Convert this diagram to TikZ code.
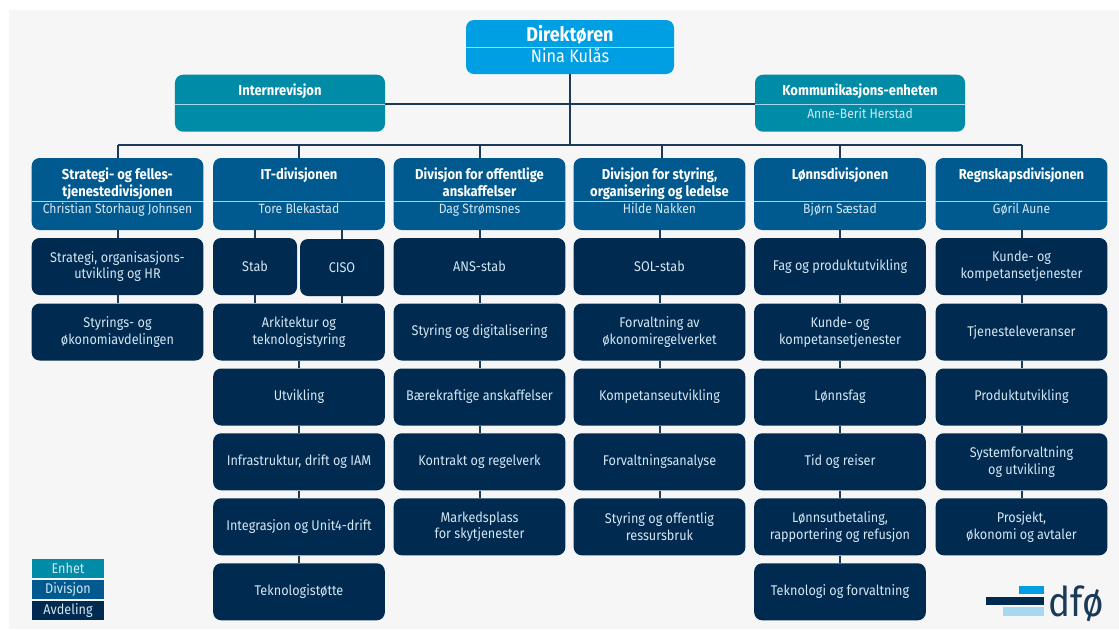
\documentclass[tikz,border=0pt]{standalone}
\usepackage{fontspec}
\setmainfont[FakeStretch=0.9]{Fira Sans}
\usetikzlibrary{positioning}
\definecolor{dirblue}{HTML}{009FE3}
\definecolor{enhetteal}{HTML}{008CA6}
\definecolor{divblue}{HTML}{005A8F}
\definecolor{avdnavy}{HTML}{002A50}
\definecolor{conncol}{HTML}{1B3A57}
\definecolor{paletext}{HTML}{D3E6F2}
\definecolor{sepcol}{HTML}{A9D6EE}
\definecolor{logopale}{HTML}{A6D8F2}
\definecolor{bggrey}{HTML}{F6F6F6}
\tikzset{
	box/.style={rounded corners=2.4mm, inner sep=0pt, text=paletext, align=center},
	avd/.style={box, fill=avdnavy, minimum width=5.15cm, minimum height=1.71cm, font=\fontsize{12}{14.2}\selectfont},
	avdsmall/.style={avd, minimum width=2.52cm},
	div/.style={box, fill=divblue, minimum width=5.15cm, minimum height=2.16cm},
	enhet/.style={box, fill=enhetteal, minimum width=6.3cm, minimum height=1.71cm},
	topbox/.style={box, fill=dirblue, minimum width=6.24cm, minimum height=1.62cm},
	title/.style={anchor=north, inner sep=0pt, text=white, align=center, font=\fontsize{12.3}{14.4}\selectfont\bfseries},
	person/.style={inner sep=0pt, text=paletext, text height=8.5pt, text depth=2.5pt, font=\fontsize{11.5}{12}\selectfont},
	sepline/.style={draw=sepcol, line width=0.25mm},
	conn/.style={draw=conncol, line width=0.6mm},
	legend/.style={inner sep=0pt, text=paletext, minimum width=2.16cm, minimum height=0.57cm, font=\fontsize{12}{12}\selectfont}
}
\begin{document}
\begin{tikzpicture}[x=0.03cm, y=-0.03cm]
	\useasboundingbox (0,0) rectangle (1119,630);
	\fill[bggrey] (9,10) rectangle (1119,629);
	\coordinate (bus) at (569.5,144.7);
	\coordinate (bus4) at (662,144.7);

	\node[topbox] (dir) at (570,47) {};
	\node[enhet] (intern) at (280,103.2) {};
	\node[enhet] (komm) at (860,103.2) {};
	\node[div] (strat) at (117.5,194) {};
	\node[div] (it) at (299,194) {};
	\node[div] (ans) at (479.5,194) {};
	\node[div] (sol) at (659.5,194) {};
	\node[div] (lonn) at (840,194) {};
	\node[div] (regn) at (1021.5,194) {};

	\node[title, font=\fontsize{17}{18}\selectfont\bfseries] (dirt) at (570,25.5) {Direktøren};
	\node[person, text=white, text height=11pt, text depth=1pt, font=\fontsize{15.4}{16}\selectfont] (dirn) at (570,57) {Nina Kulås};
	\node[title] (internt) at (280,83.5) {Internrevisjon};
	\node[title] (kommt) at (860,83.5) {Kommunikasjons-enheten};
	\node[person] (kommn) at (860,114.5) {Anne-Berit Herstad};
	\node[title] (stratt) at (117.5,167.5) {Strategi- og felles-\\tjenestedivisjonen};
	\node[person] (stratn) at (117.5,210) {Christian Storhaug Johnsen};
	\node[title] (itt) at (299,167.5) {IT-divisjonen};
	\node[person] (itn) at (299,210) {Tore Blekastad};
	\node[title] (anst) at (479.5,167.5) {Divisjon for offentlige\\anskaffelser};
	\node[person] (ansn) at (479.5,210) {Dag Strømsnes};
	\node[title] (solt) at (659.5,167.5) {Divisjon for styring,\\organisering og ledelse};
	\node[person] (soln) at (659.5,210) {Hilde Nakken};
	\node[title] (lonnt) at (840,167.5) {Lønnsdivisjonen};
	\node[person] (lonnn) at (840,210) {Bjørn Sæstad};
	\node[title] (regnt) at (1021.5,167.5) {Regnskapsdivisjonen};
	\node[person] (regnn) at (1021.5,210) {Gøril Aune};

	\node[avd] (strat1) at (117.5,266.5) {Strategi, organisasjons-\\utvikling og HR};
	\node[avd] (strat2) at (117.5,332) {Styrings- og\\økonomiavdelingen};

	\node[avdsmall] (stab) at (255,266.5) {Stab};
	\node[avdsmall] (ciso) at (342,267.5) {CISO};
	\node[avd] (it1) at (299,332) {Arkitektur og\\teknologistyring};
	\node[avd] (it2) at (299,397) {Utvikling};
	\node[avd] (it3) at (299,461.8) {Infrastruktur, drift og IAM};
	\node[avd] (it4) at (299,526.8) {Integrasjon og Unit4-drift};
	\node[avd] (it5) at (299,591.8) {Teknologistøtte};

	\node[avd] (ans1) at (479.5,266.5) {ANS-stab};
	\node[avd] (ans2) at (479.5,332) {Styring og digitalisering};
	\node[avd] (ans3) at (479.5,397) {Bærekraftige anskaffelser};
	\node[avd] (ans4) at (479.5,461.8) {Kontrakt og regelverk};
	\node[avd] (ans5) at (479.5,526.8) {Markedsplass\\for skytjenester};

	\node[avd] (sol1) at (659.5,266.5) {SOL-stab};
	\node[avd] (sol2) at (659.5,332) {Forvaltning av\\økonomiregelverket};
	\node[avd] (sol3) at (659.5,397) {Kompetanseutvikling};
	\node[avd] (sol4) at (659.5,461.8) {Forvaltningsanalyse};
	\node[avd] (sol5) at (659.5,526.8) {Styring og offentlig\\ressursbruk};

	\node[avd] (lonn1) at (840,266.5) {Fag og produktutvikling};
	\node[avd] (lonn2) at (840,332) {Kunde- og\\kompetansetjenester};
	\node[avd] (lonn3) at (840,397) {Lønnsfag};
	\node[avd] (lonn4) at (840,461.8) {Tid og reiser};
	\node[avd] (lonn5) at (840,526.8) {Lønnsutbetaling,\\rapportering og refusjon};
	\node[avd] (lonn6) at (840,591.8) {Teknologi og forvaltning};

	\node[avd] (regn1) at (1021.5,266.5) {Kunde- og\\kompetansetjenester};
	\node[avd] (regn2) at (1021.5,332) {Tjenesteleveranser};
	\node[avd] (regn3) at (1021.5,397) {Produktutvikling};
	\node[avd] (regn4) at (1021.5,461.8) {Systemforvaltning\\og utvikling};
	\node[avd] (regn5) at (1021.5,526.8) {Prosjekt,\\økonomi og avtaler};

	\draw[sepline] (dir.west |- 0,47) -- (dir.east |- 0,47);
	\draw[sepline] (intern.west |- 0,104) -- (intern.east |- 0,104);
	\draw[sepline] (komm.west |- 0,104) -- (komm.east |- 0,104);
	\draw[sepline] (strat.west |- 0,201.5) -- (strat.east |- 0,201.5);
	\draw[sepline] (it.west |- 0,201.5) -- (it.east |- 0,201.5);
	\draw[sepline] (ans.west |- 0,201.5) -- (ans.east |- 0,201.5);
	\draw[sepline] (sol.west |- 0,201.5) -- (sol.east |- 0,201.5);
	\draw[sepline] (lonn.west |- 0,201.5) -- (lonn.east |- 0,201.5);
	\draw[sepline] (regn.west |- 0,201.5) -- (regn.east |- 0,201.5);

	\draw[conn] (dir.south -| bus) -- (bus);
	\draw[conn] (intern.east |- 0,104) -- (komm.west |- 0,104);
	\draw[conn] (strat.north |- bus) -- (regn.north |- bus);
	\draw[conn] (strat.north |- bus) -- (strat.north);
	\draw[conn] (it.north |- bus) -- (it.north);
	\draw[conn] (ans.north |- bus) -- (ans.north);
	\draw[conn] (bus4) -- (bus4 |- sol.north);
	\draw[conn] (lonn.north |- bus) -- (lonn.north);
	\draw[conn] (regn.north |- bus) -- (regn.north);

	\draw[conn] (strat.south) -- (strat1.north);
	\draw[conn] (strat1.south) -- (strat2.north);
	\draw[conn] (stab.north |- it.south) -- (stab.north);
	\draw[conn] (ciso.north |- it.south) -- (ciso.north);
	\draw[conn] (stab.south) -- (stab.south |- it1.north);
	\draw[conn] (ciso.south) -- (ciso.south |- it1.north);
	\draw[conn] (it1.south) -- (it2.north);
	\draw[conn] (it2.south) -- (it3.north);
	\draw[conn] (it3.south) -- (it4.north);
	\draw[conn] (it4.south) -- (it5.north);
	\draw[conn] (ans.south) -- (ans1.north);
	\draw[conn] (ans1.south) -- (ans2.north);
	\draw[conn] (ans2.south) -- (ans3.north);
	\draw[conn] (ans3.south) -- (ans4.north);
	\draw[conn] (ans4.south) -- (ans5.north);
	\draw[conn] (sol.south) -- (sol1.north);
	\draw[conn] (sol1.south) -- (sol2.north);
	\draw[conn] (sol2.south) -- (sol3.north);
	\draw[conn] (sol3.south) -- (sol4.north);
	\draw[conn] (sol4.south) -- (sol5.north);
	\draw[conn] (lonn.south) -- (lonn1.north);
	\draw[conn] (lonn1.south) -- (lonn2.north);
	\draw[conn] (lonn2.south) -- (lonn3.north);
	\draw[conn] (lonn3.south) -- (lonn4.north);
	\draw[conn] (lonn4.south) -- (lonn5.north);
	\draw[conn] (lonn5.south) -- (lonn6.north);
	\draw[conn] (regn.south) -- (regn1.north);
	\draw[conn] (regn1.south) -- (regn2.north);
	\draw[conn] (regn2.south) -- (regn3.north);
	\draw[conn] (regn3.south) -- (regn4.north);
	\draw[conn] (regn4.south) -- (regn5.north);

	\node[legend, fill=enhetteal] (legenhet) at (68,568.5) {Enhet};
	\node[legend, fill=divblue] (legdiv) at (68,589.7) {Divisjon};
	\node[legend, fill=avdnavy] (legavd) at (68,610.5) {Avdeling};

	\fill[dirblue] (1019,586) rectangle (1044,594.3);
	\fill[avdnavy] (986,597) rectangle (1044,605);
	\fill[logopale] (1002.7,607.3) rectangle (1044,616);
	\node[anchor=base west, inner sep=0pt, text=conncol, font=\fontsize{35}{35}\selectfont] (logo) at (1048,616) {dfø};
\end{tikzpicture}
\end{document}
